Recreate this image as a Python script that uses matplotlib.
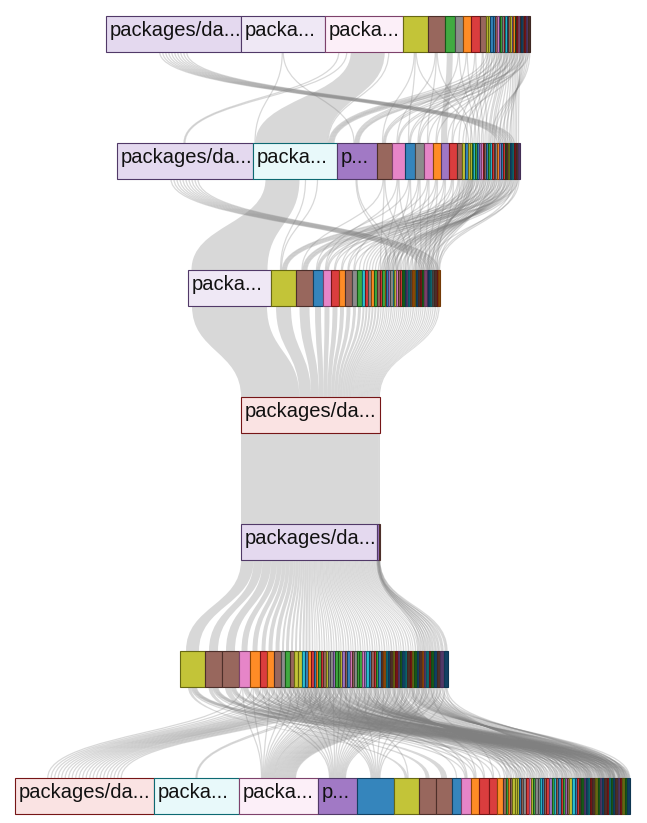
import matplotlib
matplotlib.use("Agg")
import matplotlib.pyplot as plt
from matplotlib.path import Path
from matplotlib.patches import PathPatch, Rectangle
from matplotlib.colors import to_rgb
from collections import defaultdict

PALETTE = {'b': '#1f77b4', 'o': '#ff7f0e', 'g': '#2ca02c', 'r': '#d62728', 'p': '#9467bd',
           'n': '#8c564b', 'k': '#e377c2', 'y': '#7f7f7f', 'l': '#bcbd22', 'c': '#17becf'}

# ---------------- data ----------------
row0_labels = ["packages/da...", "packa...", "packa..."]
row0_values = [135, 84, 78, 25, 17, 10, 8, 8, 9, 6,
               2, 2, 3, 2, 2, 2, 1.5, 1.5, 2, 1.5, 1.5, 1.5, 2, 1.5, 1.5, 1.5, 1.5, 1.5, 2, 1.5,
               1.5, 1.5, 2, 2, 2]
row0_colors = "ppklngyorn" + "llbbnkpgyrcbnlpogrknbyrpn"
row0_tint = [0.25, 0.15, 0.12]

row1_labels = ["packages/da...", "packa...", "p..."]
row1_values = [136, 84, 40, 15, 13, 10, 9, 9, 8, 8, 8, 5, 3, 3,
               2, 2, 1.5, 2, 2, 1.5, 2, 2, 1.5, 2, 2, 1.5, 2, 2, 1.5, 2, 2, 1.5, 2, 2, 1.5,
               2, 2, 1.5, 2, 2, 2, 2]
row1_colors = "pcpnkbykoprnlb" + "llgcgbpkrnbgcrnyopbrgnlbcrnp"
row1_tint = [0.25, 0.1, 0.88]

row2_labels = ["packa..."]
row2_values = [83, 25, 17, 10, 8, 8, 6, 7, 5, 5, 3, 3, 3, 3, 3, 3,
               2, 2.5, 1.5, 2, 2, 2.5, 1.5, 2, 2, 2, 2, 2.5, 1.5, 2, 2, 2, 2.5, 1.5, 2, 2,
               2, 2, 2.5, 1.5, 2, 2, 2, 2.5, 1.5, 2]
row2_colors = "plnbkronygcryogn" + "rgobpyclknrgbpcyolbnrgkpbcynro"
row2_tint = [0.15]

row3_labels = ["packages/da..."]
row3_values = [139]
row3_colors = "r"
row3_tint = [0.13]

row4_labels = ["packages/da..."]
row4_values = [136, 1.5, 1.5]
row4_colors = "ppn"
row4_tint = [0.25]

row5_labels = []
row5_values = [25, 17, 17, 11, 10, 7, 7, 7, 4, 5, 4, 4, 4, 3, 3, 3,
               3, 2, 2, 3, 2, 3, 2, 2, 3, 2, 3, 2, 2, 3, 2, 3, 2, 2, 3, 2,
               3, 2, 2, 3, 2, 3, 2, 2, 3, 2, 3, 2, 2, 3, 2, 3, 2, 2, 3, 2,
               3, 2, 2, 3, 2, 3, 2, 2, 3, 2, 3, 3, 3, 4, 4]
row5_colors = "lnnkoronygnllcbo" + "rbogrnlyyp" + "gglpnbknyg" + "gkpcbnrgbn" + "ocbnlrpgbc" + "nrlgbnopcr" + "gbnpb"
row5_tint = []

row6_labels = ["packages/da...", "packa...", "packa...", "p..."]
row6_values = [139, 85, 79, 39, 37, 25, 17, 16, 9, 10, 8, 10, 8, 6,
               3, 2, 2, 2, 3, 2, 2, 2, 2, 3, 3, 2, 2, 2, 3, 2, 2, 2, 2, 3,
               3, 2, 2, 2, 3, 2, 2, 2, 2, 3, 3, 2, 2, 2, 3, 2, 2, 2, 2, 3,
               3, 2, 2, 2, 3, 2, 2, 2, 2, 3, 2, 2, 3, 2, 3]
row6_colors = "rckpblnnbkorro" + "ngonlllbnyrklgyyc" + "bnrpgcnbrgpnlcbrngpbcrnlgpbnrcgbnprlgb"
row6_tint = [0.13, 0.1, 0.12, 0.88]

# links: gap 0 -> 1
ribbons01 = [(2, 1, 34, 72), (5, 9, 6, 6)]
bundle01 = [30, 31, 32, 33, 34, 35, 36, 37, 38, 39]
side01 = [(2, 0, 8), (2, 0, 8), (2, 1, 8)]
thin01 = {1: [1, 2], 3: [3, 5, 14], 4: [4, 7, 16], 6: [6, 18], 7: [8, 20], 8: [10, 22],
          9: [11, 24], 10: [1, 13], 11: [2, 15], 12: [3, 17], 13: [5, 19], 14: [1, 21], 15: [6, 23],
          16: [2, 25], 17: [7, 26], 18: [1, 27], 19: [9, 28], 20: [3, 29], 21: [12, 31], 22: [1, 33],
          23: [4, 35], 24: [2, 37], 25: [8, 38], 26: [1, 39], 27: [5, 40], 28: [3, 41], 29: [10, 36],
          30: [2, 34], 31: [6, 32], 32: [1, 30], 33: [4, 28], 34: [2, 26]}

# gap 1 -> 2
ribbons12 = [(1, 0, 34, 76)]
bundle12 = [36, 37, 38, 39, 40, 41, 42, 43, 44, 45]
side12 = [(1, 1, 12), (1, 1, 12)]
thin12 = {2: [20, 24], 3: [2, 16, 30], 4: [4, 18, 32], 5: [3, 20, 34], 6: [8, 22, 36], 7: [4, 24, 38],
          8: [6, 26, 40], 9: [5, 28, 42], 10: [7, 17, 44], 11: [9, 19, 43], 12: [10, 21, 41],
          13: [11, 23, 39], 14: [1, 25, 37], 15: [2, 27, 35], 16: [3, 29, 33], 17: [12, 31], 18: [1, 33],
          19: [13, 35], 20: [2, 37], 21: [14, 39], 22: [4, 41], 23: [15, 43], 24: [1, 45], 25: [3, 42],
          26: [5, 40], 27: [16, 38], 28: [2, 36], 29: [6, 34], 30: [1, 32], 31: [7, 30], 32: [18, 28],
          33: [2, 26], 34: [20, 24], 35: [3, 22], 36: [8, 21], 37: [1, 19], 38: [22, 44], 39: [4, 17],
          40: [24, 45], 41: [2, 40]}

# gap 2 -> 3 (every caller flows into the focus node)
flow23 = [75, 15, 10, 6, 5, 5, 4, 4, 3, 3, 2, 2, 2, 2, 2, 2,
          1.2, 1.5, 1, 1.2, 1.2, 1.5, 1, 1.2, 1.2, 1.2,
          1.2, 1.5, 1, 1.2, 1.2, 1.2, 1.5, 1, 1.2, 1.2,
          1.2, 1.2, 1.5, 1, 1.2, 1.2, 1.2, 1.5, 1, 1.2]

# gap 3 -> 4
ribbons34 = [(0, 0, 136, 136), (0, 1, 1.5, 1.5), (0, 2, 1.5, 1.5)]

# gap 4 -> 5 (focus node fans out to callees)
flow45 = [13, 9, 9, 6, 5, 4, 4, 4, 2, 3, 2, 2, 2, 2, 2, 2,
          1.5, 1, 1, 1.5, 1, 1.5, 1, 1, 1.5, 1, 1.5, 1, 1, 1.5, 1, 1.5, 1, 1, 1.5, 1,
          1.5, 1, 1, 1.5, 1, 1.5, 1, 1, 1.5, 1, 1.5, 1, 1, 1.5, 1, 1.5, 1, 1, 1.5, 1,
          1.5, 1, 1, 1.5, 1, 1.5, 1, 1, 1.5, 1, 1.5, 1.5, 1.5, 2, 2]
lines45 = {1: [60, 62, 64, 66, 68], 2: [61, 63, 65, 67, 69, 70]}

# gap 5 -> 6
ribbons56 = [(2, 7, 6, 6), (1, 6, 4, 4), (0, 5, 3, 3)]
to_first56 = [3, 4, 5, 6, 7, 8, 9, 10, 11, 12, 13, 14, 15, 16, 17, 18, 19, 21, 22, 24, 26, 28]
thin56 = {0: [20, 44, 50, 55, 60, 65], 1: [22, 47, 52, 57, 62, 67], 2: [24, 49, 54, 59, 64],
          3: [2, 9, 26, 50, 56, 66], 4: [2, 10, 28, 53, 58, 68], 5: [3, 11, 30, 56, 61], 6: [2, 13, 32, 59, 48],
          7: [3, 12, 34, 61, 51], 8: [2, 36, 63, 53], 9: [4, 38, 65, 55], 10: [2, 40, 67, 57],
          11: [3, 15, 42, 68, 58], 12: [2, 17, 45, 60], 13: [4, 19, 48, 62], 14: [2, 21, 51, 64],
          15: [3, 23, 54, 66], 16: [2, 25, 57], 17: [4, 27, 60], 18: [2, 29, 62], 19: [3, 31, 64],
          20: [1, 2, 33, 66], 21: [8, 35, 58], 22: [2, 37, 55], 23: [1, 4, 39, 52], 24: [2, 41, 49], 25: [3, 43, 46],
          26: [2, 44, 67], 27: [2, 9, 46, 65], 28: [3, 48, 63], 29: [2, 10, 50, 61], 30: [4, 52, 59], 31: [2, 54, 68],
          32: [3, 56, 66], 33: [2, 58, 64], 34: [5, 60, 62], 35: [2, 62, 57], 36: [3, 64, 53], 37: [2, 66, 51],
          38: [4, 68, 47], 39: [2, 14, 45], 40: [3, 16, 43], 41: [2, 18, 41], 42: [9, 20, 39], 43: [2, 22, 37],
          44: [3, 24, 35], 45: [2, 26, 33], 46: [4, 28, 31], 47: [2, 30, 29], 48: [3, 32, 27], 49: [2, 34, 25],
          50: [11, 36, 23], 51: [2, 38, 21], 52: [3, 40, 19], 53: [2, 42, 17], 54: [4, 44, 15], 55: [2, 46, 67],
          56: [3, 48, 65], 57: [2, 50, 63], 58: [10, 52, 61], 59: [2, 54, 59], 60: [3, 56, 57], 61: [2, 58, 55],
          62: [4, 60, 53], 63: [2, 62, 51], 64: [3, 64, 49], 65: [2, 66, 47], 66: [12, 68, 45], 67: [2, 43, 66],
          68: [3, 41, 64], 69: [2, 39, 62], 70: [4, 37, 60]}

# ---------------- layout / style ----------------
ROW_TOP0, ROW_PITCH, NODE_H = 16, 127, 36
ROW_CENTER = [318, 318, 314, 310.5, 310.5, 314, 322.5]
DARK_FROM = [26, 34, 27, None, None, 45, 47]   # thin tail nodes drawn in deep shades
DEFAULT_TINT = 0.9
LINK_RGBA = (0.5, 0.5, 0.5, 0.3)

rows = [(row0_labels, row0_values, row0_colors, row0_tint),
        (row1_labels, row1_values, row1_colors, row1_tint),
        (row2_labels, row2_values, row2_colors, row2_tint),
        (row3_labels, row3_values, row3_colors, row3_tint),
        (row4_labels, row4_values, row4_colors, row4_tint),
        (row5_labels, row5_values, row5_colors, row5_tint),
        (row6_labels, row6_values, row6_colors, row6_tint)]

fig = plt.figure(figsize=(6.47, 8.23), dpi=100)
ax = fig.add_axes([0, 0, 1, 1])
ax.set_xlim(0, 647)
ax.set_ylim(823, 0)
ax.axis('off')

nodes = []
for k, (labels, values, colors, tints) in enumerate(rows):
    total = sum(values)
    x = ROW_CENTER[k] - total / 2
    top = ROW_TOP0 + k * ROW_PITCH
    rn = []
    for i, v in enumerate(values):
        base = to_rgb(PALETTE[colors[i % len(colors)]])
        if DARK_FROM[k] is not None and i >= DARK_FROM[k]:
            fill = tuple(0.55 * c for c in base)
            edge = tuple(0.45 * c for c in base)
        else:
            a = tints[i] if i < len(tints) else DEFAULT_TINT
            fill = tuple(1 - a * (1 - c) for c in base)
            edge = tuple(0.55 * c for c in base)
        rn.append(dict(x0=x, x1=x + v, top=top, bot=top + NODE_H, fill=fill, edge=edge,
                       label=labels[i] if i < len(labels) else ""))
        x += v
    nodes.append(rn)

links = []
for s, t, ws, wt in ribbons01:
    links.append((0, s, t, ws, wt, 'ribbon'))
for t in bundle01:
    links.append((0, 0, t, 3, 1, 'line'))
for s, t, w in side01:
    links.append((0, s, t, w, 1, 'line'))
for s, ts in thin01.items():
    for t in ts:
        links.append((0, s, t, 1, 1, 'line'))
for s, t, ws, wt in ribbons12:
    links.append((1, s, t, ws, wt, 'ribbon'))
for t in bundle12:
    links.append((1, 0, t, 3, 1, 'line'))
for s, t, w in side12:
    links.append((1, s, t, w, 1, 'line'))
for s, ts in thin12.items():
    for t in ts:
        links.append((1, s, t, 1, 1, 'line'))
for s, w in enumerate(flow23):
    links.append((2, s, 0, w, w, 'ribbon'))
for s, t, ws, wt in ribbons34:
    links.append((3, s, t, ws, wt, 'ribbon'))
for t, w in enumerate(flow45):
    links.append((4, 0, t, w, w, 'ribbon'))
for s, ts in lines45.items():
    for t in ts:
        links.append((4, s, t, 1, 1, 'line'))
for s, t, ws, wt in ribbons56:
    links.append((5, s, t, ws, wt, 'ribbon'))
for s in to_first56:
    links.append((5, s, 0, 1.5, 3.5, 'line'))
for s, ts in thin56.items():
    for t in ts:
        links.append((5, s, t, 1, 1, 'line'))


def ctr(n):
    return (n['x0'] + n['x1']) / 2


out_groups = defaultdict(list)
in_groups = defaultdict(list)
for li, (k, s, t, ws, wt, kind) in enumerate(links):
    out_groups[(k, s)].append(li)
    in_groups[(k + 1, t)].append(li)

src_pos, dst_pos = {}, {}
for (k, s), lis in out_groups.items():
    n = nodes[k][s]
    lis.sort(key=lambda li: ctr(nodes[k + 1][links[li][2]]))
    total = sum(links[li][3] for li in lis)
    sc = min(1.0, (n['x1'] - n['x0']) / total)
    x = ctr(n) - total * sc / 2
    for li in lis:
        d = links[li][3] * sc
        src_pos[li] = (x, x + d)
        x += d
for (k, t), lis in in_groups.items():
    n = nodes[k][t]
    lis.sort(key=lambda li: ctr(nodes[k - 1][links[li][1]]))
    total = sum(links[li][4] for li in lis)
    sc = min(1.0, (n['x1'] - n['x0']) / total)
    x = ctr(n) - total * sc / 2
    for li in lis:
        d = links[li][4] * sc
        dst_pos[li] = (x, x + d)
        x += d

for li, (k, s, t, ws, wt, kind) in enumerate(links):
    y0 = nodes[k][s]['bot']
    y1 = nodes[k + 1][t]['top']
    ym = (y0 + y1) / 2
    a0, a1 = src_pos[li]
    b0, b1 = dst_pos[li]
    if kind == 'ribbon':
        verts = [(a0, y0), (a0, ym), (b0, ym), (b0, y1), (b1, y1), (b1, ym), (a1, ym), (a1, y0), (a0, y0)]
        codes = [Path.MOVETO, Path.CURVE4, Path.CURVE4, Path.CURVE4, Path.LINETO,
                 Path.CURVE4, Path.CURVE4, Path.CURVE4, Path.CLOSEPOLY]
        ax.add_patch(PathPatch(Path(verts, codes), facecolor=LINK_RGBA, edgecolor='none', lw=0, zorder=1))
    else:
        xa = (a0 + a1) / 2
        xb = (b0 + b1) / 2
        verts = [(xa, y0), (xa, ym), (xb, ym), (xb, y1)]
        codes = [Path.MOVETO, Path.CURVE4, Path.CURVE4, Path.CURVE4]
        ax.add_patch(PathPatch(Path(verts, codes), facecolor='none', edgecolor=LINK_RGBA, lw=0.9, zorder=1))

for rn in nodes:
    for n in rn:
        ax.add_patch(Rectangle((n['x0'], n['top']), n['x1'] - n['x0'], NODE_H,
                               facecolor=n['fill'], edgecolor=n['edge'], lw=0.8, zorder=2))
        if n['label']:
            ax.text(n['x0'] + 4, n['top'] + 20, n['label'], fontsize=14.5, family='Liberation Sans',
                    va='baseline', ha='left', color='#111111', zorder=3)

fig.savefig("out.png", dpi=100)
